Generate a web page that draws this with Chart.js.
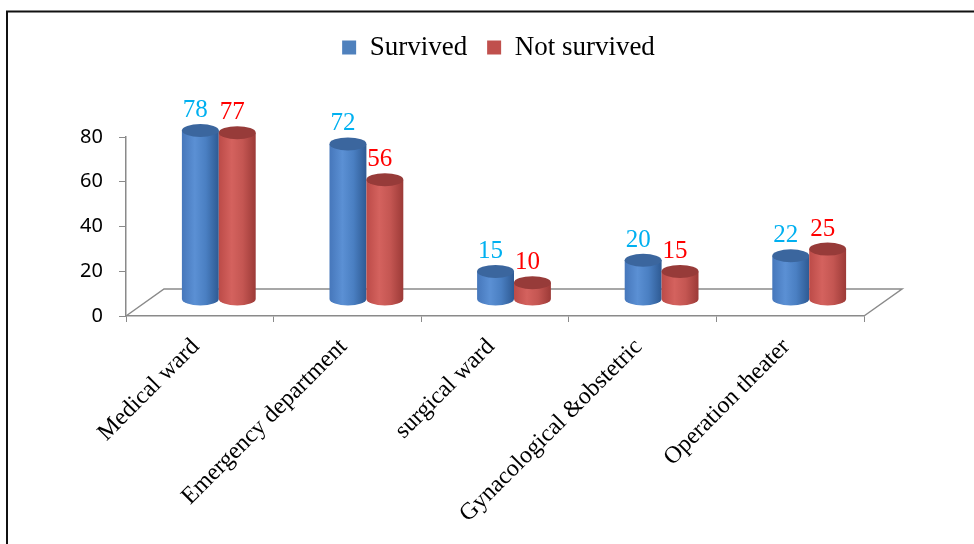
<!DOCTYPE html>
<html lang="en">
<head>
    <meta charset="UTF-8">
    <title>Survival by ward</title>
    <style>
        body { margin: 0; background: #fff; }
        #wrap { width: 974px; height: 544px; position: relative; }
    </style>
</head>
<body>
    <div id="wrap">
        <canvas id="myChart"></canvas>
    </div>

    <script src="https://cdn.jsdelivr.net/npm/chart.js"></script>
    <script>
        const wards = ['Medical ward', 'Emergency department', 'surgical ward', 'Gynacological &obstetric', 'Operation theater'];
        const survived = [78, 72, 15, 20, 22];
        const notSurvived = [77, 56, 10, 15, 25];
        const yTicks = [0, 20, 40, 60, 80];

        // floor depth and cylinder offsets (px)
        const depthX = 38, depthY = -27;
        const shiftX = 19;

        const shades = [
            { body: ['#4677bb', '#5b90d4', '#4a7fc2', '#2e5a93'], top: '#3b669e', label: '#00b0f0' },
            { body: ['#bc4b48', '#d4625e', '#c45652', '#9c3a37'], top: '#973b39', label: '#ff0000' }
        ];

        const drawCylinder = (c, cx, topY, botY, rx, ry, s) => {
            const g = c.createLinearGradient(cx - rx, 0, cx + rx, 0);
            g.addColorStop(0, s.body[0]);
            g.addColorStop(0.35, s.body[1]);
            g.addColorStop(0.65, s.body[2]);
            g.addColorStop(1, s.body[3]);
            c.beginPath();
            c.moveTo(cx - rx, topY);
            c.lineTo(cx - rx, botY);
            c.ellipse(cx, botY, rx, ry, 0, Math.PI, 0, true);
            c.lineTo(cx + rx, topY);
            c.closePath();
            c.fillStyle = g;
            c.fill();
            c.beginPath();
            c.ellipse(cx, topY, rx, ry, 0, 0, Math.PI * 2);
            c.fillStyle = s.top;
            c.fill();
        };

        const cylinders = {
            id: 'cylinders',
            beforeDraw(chart) {
                const c = chart.ctx;
                c.save();
                c.fillStyle = '#fff';
                c.fillRect(0, 0, chart.width, chart.height);
                c.strokeStyle = '#111';
                c.lineWidth = 2;
                c.beginPath();
                c.moveTo(7, chart.height);
                c.lineTo(7, 11.5);
                c.lineTo(chart.width, 11.5);
                c.stroke();
                c.restore();
            },
            beforeDatasetsDraw(chart) {
                const c = chart.ctx;
                const a = chart.chartArea;
                c.save();
                // floor outline
                c.strokeStyle = '#8a8a8a';
                c.lineWidth = 1.5;
                c.beginPath();
                c.moveTo(a.left, a.bottom);
                c.lineTo(a.left + depthX, a.bottom + depthY);
                c.lineTo(a.right + depthX, a.bottom + depthY);
                c.lineTo(a.right, a.bottom);
                c.stroke();

                const metas = chart.data.datasets.map((d, i) => chart.getDatasetMeta(i));
                const n = chart.data.labels.length;
                for (let j = 0; j < n; j++) {
                    metas.forEach((meta, i) => {
                        const el = meta.data[j];
                        const rx = el.width / 2;
                        drawCylinder(c, el.x + shiftX, el.y - 11, el.base - 16.5, rx, 6.5, shades[i]);
                    });
                }
                // value labels
                c.font = '25px "Liberation Serif", "Times New Roman", serif';
                c.textAlign = 'center';
                c.textBaseline = 'alphabetic';
                metas.forEach((meta, i) => {
                    const values = chart.data.datasets[i].data;
                    meta.data.forEach((el, j) => {
                        c.fillStyle = shades[i].label;
                        c.fillText(String(values[j]), el.x + shiftX - 5, el.y - 11 - 6.5 - 7);
                    });
                });
                c.restore();
                return false;
            }
        };

        const ctx = document.getElementById('myChart');

        new Chart(ctx, {
            type: 'bar',
            data: {
                labels: wards,
                datasets: [
                    { label: 'Survived', data: survived, backgroundColor: '#4f81bd', borderWidth: 0 },
                    { label: 'Not survived', data: notSurvived, backgroundColor: '#c0504d', borderWidth: 0 }
                ]
            },
            options: {
                responsive: true,
                maintainAspectRatio: false,
                animation: false,
                events: [],
                layout: { padding: { top: 14, right: 0, bottom: 0, left: 23 } },
                datasets: {
                    bar: { categoryPercentage: 0.5, barPercentage: 1 }
                },
                plugins: {
                    legend: {
                        position: 'top',
                        labels: {
                            color: '#000',
                            boxWidth: 14,
                            boxHeight: 14,
                            padding: 20,
                            font: { family: '"Liberation Serif", "Times New Roman", serif', size: 27 }
                        }
                    },
                    // spacer between the legend and the plot
                    title: {
                        display: true,
                        text: '',
                        weight: 500,
                        font: { size: 10, lineHeight: 1 },
                        padding: { top: 0, bottom: 56 }
                    },
                    tooltip: { enabled: false }
                },
                scales: {
                    x: {
                        afterFit(scale) { scale.height = 228; },
                        grid: { drawOnChartArea: false, drawTicks: true, tickLength: 6, color: '#8a8a8a', offset: true },
                        border: { color: '#8a8a8a', width: 1.5 },
                        ticks: {
                            autoSkip: false,
                            minRotation: 45,
                            maxRotation: 45,
                            padding: 11,
                            labelOffset: -4,
                            color: '#000',
                            font: { family: '"Liberation Serif", "Times New Roman", serif', size: 24 }
                        }
                    },
                    y: {
                        min: 0,
                        max: 80,
                        afterFit(scale) { scale.width = 103; },
                        afterBuildTicks(scale) { scale.ticks = yTicks.map(v => ({ value: v })); },
                        grid: { drawOnChartArea: false, drawTicks: true, tickLength: 7, color: '#8a8a8a' },
                        border: { color: '#8a8a8a', width: 1.5 },
                        ticks: {
                            padding: 16,
                            color: '#000',
                            font: { family: '"Noto Sans", sans-serif', size: 20 }
                        }
                    },
                    // empty margin on the right that leaves room for the floor's depth
                    side: {
                        type: 'linear',
                        position: 'right',
                        afterFit(scale) { scale.width = 110; },
                        grid: { display: false },
                        border: { display: false },
                        ticks: { display: false }
                    }
                }
            },
            plugins: [cylinders]
        });
    </script>
</body>
</html>
